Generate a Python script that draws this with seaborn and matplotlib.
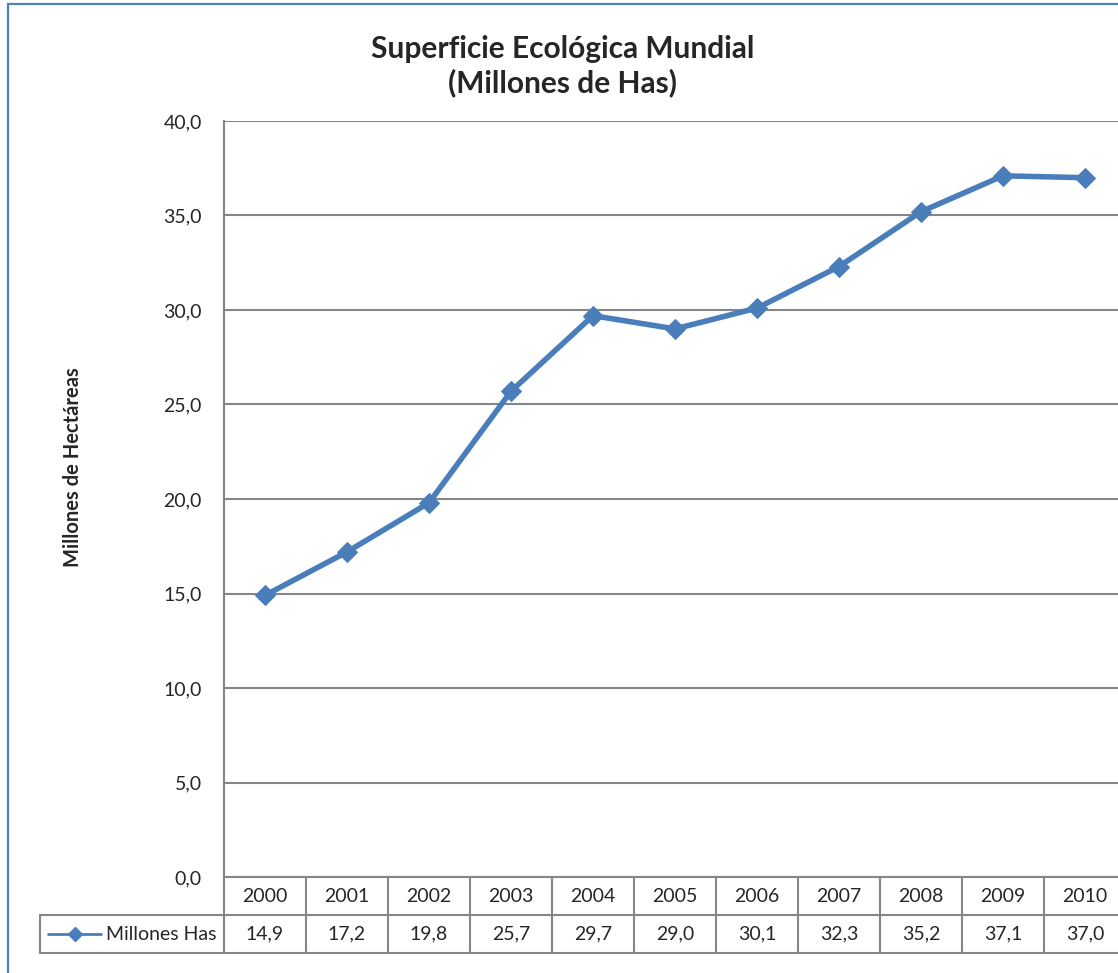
import numpy as np
import pandas as pd
import matplotlib
matplotlib.use("Agg")
import matplotlib.pyplot as plt
from matplotlib.lines import Line2D
from matplotlib.patches import Rectangle
import seaborn as sns

# Superficie ecológica mundial, millones de hectáreas
years = ["2000", "2001", "2002", "2003", "2004", "2005",
         "2006", "2007", "2008", "2009", "2010"]
values = [14.9, 17.2, 19.8, 25.7, 29.7, 29.0, 30.1, 32.3, 35.2, 37.1, 37.0]
series_name = "Millones Has"
y_ticks = [0, 5, 10, 15, 20, 25, 30, 35, 40]

title = "Superficie Ecológica Mundial\n(Millones de Has)"
y_label = "Millones de Hectáreas"

sns.set_theme(style="white")
plt.rcParams["font.family"] = ["Lato", "DejaVu Sans"]

LINE_BLUE = "#4A7EBB"
GRID_GREY = "#868686"

df = pd.DataFrame({"pos": np.arange(len(years)), "valor": values})

W, H = 1118, 973
fig = plt.figure(figsize=(W / 100, H / 100), dpi=100)

# outer chart border
fig.patches.append(Rectangle((8 / W, -0.01), 1.2, 1 - 4 / H + 0.01,
                             transform=fig.transFigure, fill=False,
                             edgecolor="#4F81BD", linewidth=1.6))

left, right, top, bottom = 224, 1126, 121, 877
ax = fig.add_axes([left / W, 1 - bottom / H, (right - left) / W, (bottom - top) / H])

sns.lineplot(data=df, x="pos", y="valor", ax=ax, color=LINE_BLUE,
             linewidth=4.0, marker="D", markersize=10.5,
             markeredgecolor=LINE_BLUE, markerfacecolor=LINE_BLUE, zorder=5)

ax.set_xlim(-0.5, len(years) - 0.5)
ax.set_ylim(0, 40)
ax.set_yticks(y_ticks)
ax.set_yticklabels([f"{v:.1f}".replace(".", ",") for v in y_ticks], fontsize=14)
ax.tick_params(axis="y", length=0, pad=16)
ax.set_xticks([])
ax.set_xlabel("")
ax.set_ylabel("")
ax.yaxis.grid(True, color=GRID_GREY, linewidth=1.5)
for side in ["top", "right", "bottom"]:
    ax.spines[side].set_visible(False)
ax.spines["left"].set_color(GRID_GREY)
ax.spines["left"].set_linewidth(1.5)

fig.text(563 / W, 1 - 66 / H, title, ha="center", va="center",
         fontsize=21.5, fontweight="bold", linespacing=1.25)
fig.text(73 / W, 1 - 467 / H, y_label, ha="center", va="center",
         rotation=90, fontsize=14.5, fontweight="bold")

# data table below the plot area (x in data units, y in axes fraction)
trans = ax.get_xaxis_transform()
row_h = 38 / (bottom - top)
y0, y1, y2 = 0.0, -row_h, -2 * row_h
n = len(years)
tbl_kw = dict(color=GRID_GREY, linewidth=1.5, transform=trans, clip_on=False)
for yy in (y0, y1, y2):
    ax.add_line(Line2D([-0.5, n - 0.5], [yy, yy], **tbl_kw))
for i in range(n + 1):
    ax.add_line(Line2D([i - 0.5, i - 0.5], [y0, y2], **tbl_kw))
for i, (yr, v) in enumerate(zip(years, values)):
    ax.text(i, (y0 + y1) / 2, yr, transform=trans, ha="center", va="center",
            fontsize=14, clip_on=False)
    ax.text(i, (y1 + y2) / 2, f"{v:.1f}".replace(".", ","), transform=trans,
            ha="center", va="center", fontsize=14, clip_on=False)

# legend key cell at the left of the values row
fx0, fx1 = 40 / W, left / W
fy1 = 1 - 915 / H
fy2 = 1 - 953 / H
fig_kw = dict(color=GRID_GREY, linewidth=1.5, transform=fig.transFigure)
fig.add_artist(Line2D([fx0, fx1], [fy1, fy1], **fig_kw))
fig.add_artist(Line2D([fx0, fx1], [fy2, fy2], **fig_kw))
fig.add_artist(Line2D([fx0, fx0], [fy1, fy2], **fig_kw))
ym = (fy1 + fy2) / 2
fig.add_artist(Line2D([48 / W, 101 / W], [ym, ym], color=LINE_BLUE, linewidth=2,
                      transform=fig.transFigure))
fig.add_artist(Line2D([75 / W], [ym], color=LINE_BLUE, marker="D", markersize=7,
                      linestyle="none", transform=fig.transFigure))
fig.text(106 / W, ym, series_name, ha="left", va="center", fontsize=14)

fig.savefig("out.png", dpi=100, facecolor="white")
